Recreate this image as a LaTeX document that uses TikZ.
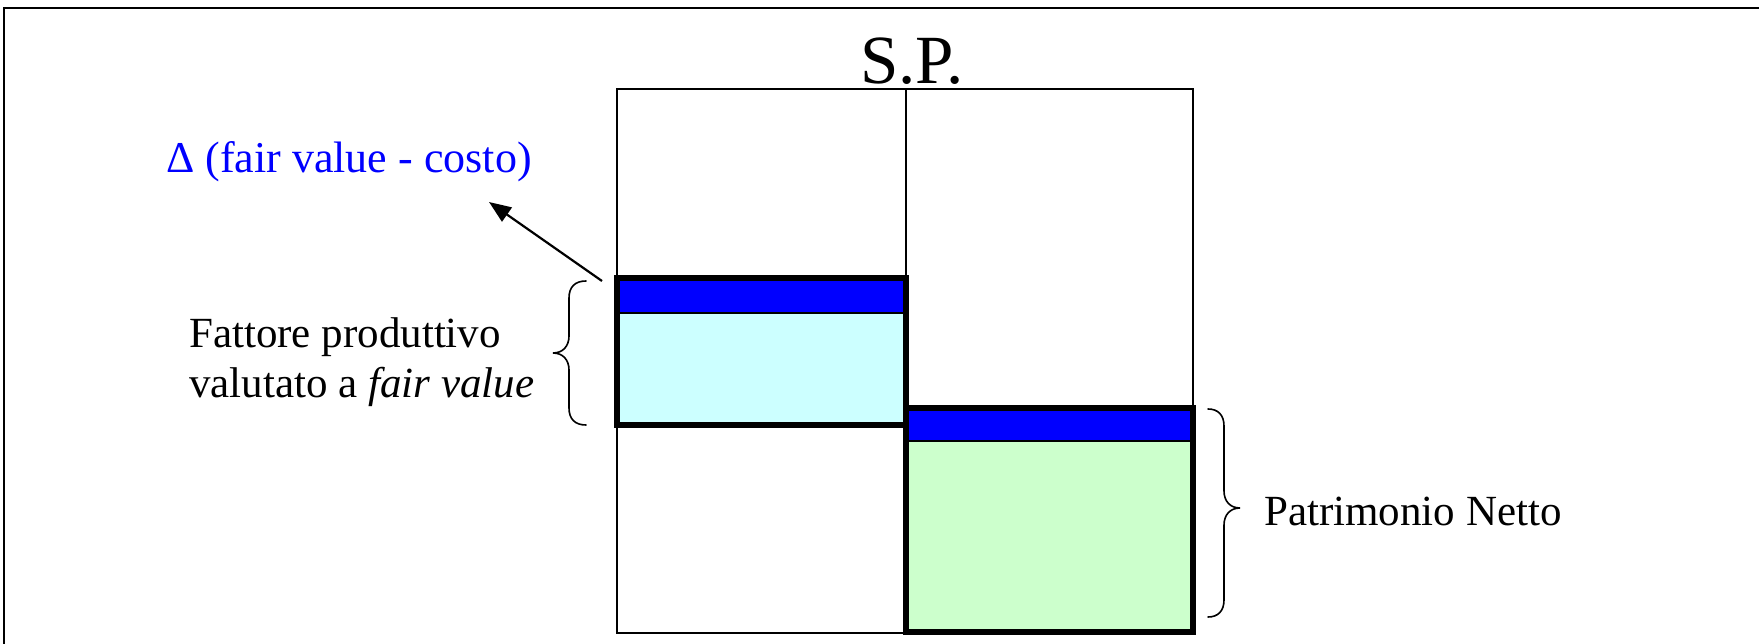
\documentclass[tikz,border=0pt]{standalone}
\usepackage{fontspec}
\setmainfont{Liberation Serif}
\usetikzlibrary{arrows.meta}
\definecolor{bandblue}{RGB}{0,0,255}
\definecolor{lightcyan}{RGB}{204,255,255}
\definecolor{lightgreen}{RGB}{204,255,204}
\begin{document}
\begin{tikzpicture}[x=1pt,y=-1pt,
  thinline/.style={line width=2pt},
  thickline/.style={line width=5.5pt},
  lbl/.style={inner sep=0pt, anchor=base west, font=\fontsize{43}{49}\selectfont},
  bracestyle/.style={line width=1.6pt, line cap=round},
  arrowline/.style={line width=2.2pt, -{Triangle[length=22pt,width=17pt]}}]
\useasboundingbox (0,0) rectangle (1759,644);
% outer frame (continues past the right and bottom edges)
\draw[line width=2.5pt] (4,660) -- (4,8) -- (1775,8);
% fills
\fill[lightcyan] (617,278) rectangle (906,425);
\fill[bandblue] (617,278) rectangle (906,313);
\fill[lightgreen] (906,408) rectangle (1193,632);
\fill[bandblue] (906,408) rectangle (1193,441);
% grid
\draw[thinline] (617,89) rectangle (1193,633);
\draw[thinline] (906,89) -- (906,633);
% thick blocks
\draw[line width=2.5pt] (617,313) -- (906,313);
\draw[line width=2.5pt] (906,441) -- (1193,441);
\draw[thickline] (617,278) rectangle (906,425);
\draw[thickline] (906,408) rectangle (1193,632);
% texts
\node[inner sep=0pt, anchor=base, font=\fontsize{69}{75}\selectfont] (title) at (912,84) {S.P.};
\node[lbl, text=bandblue, font=\fontsize{44}{50}\selectfont] (delta) at (166,173) {Δ (fair value - costo)};
\node[lbl] (fp1) at (189,348) {Fattore produttivo};
\node[lbl] (fp2) at (189,397) {valutato a \textit{fair value}};
\node[lbl] (pn) at (1264,525) {Patrimonio Netto};
% braces
\draw[bracestyle] (586,281) .. controls (575,281) and (569,287) .. (569,298) -- (569,336) .. controls (569,346) and (563,353) .. (553,353) .. controls (563,353) and (569,360) .. (569,370) -- (569,408) .. controls (569,419) and (575,425) .. (586,425);
\draw[bracestyle] (1208,409) .. controls (1218,409) and (1224,415) .. (1224,426) -- (1224,491) .. controls (1224,501) and (1230,508) .. (1240,508) .. controls (1230,508) and (1224,515) .. (1224,525) -- (1224,600) .. controls (1224,611) and (1218,617) .. (1208,617);
% arrow
\coordinate (astart) at (602,281);
\coordinate (atip) at (489,202);
\draw[arrowline] (astart) -- (atip);
\end{tikzpicture}
\end{document}
